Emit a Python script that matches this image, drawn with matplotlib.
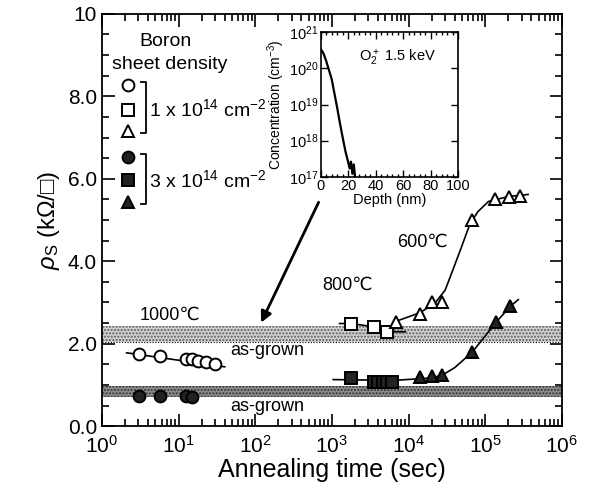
import numpy as np
import matplotlib
matplotlib.use("Agg")
import matplotlib.pyplot as plt
from matplotlib.ticker import MultipleLocator, LogLocator, NullFormatter, FixedLocator

plt.rcParams['font.family'] = ['Liberation Sans', 'DejaVu Sans']
plt.rcParams['mathtext.fontset'] = 'custom'
plt.rcParams['mathtext.rm'] = 'Liberation Sans'
plt.rcParams['mathtext.it'] = 'Liberation Sans:italic'

# --- data ---
# 1000 C
t_circ_open = [3.06, 5.8, 12.4, 14.8, 18, 22.7, 29.7]
r_circ_open = [1.74, 1.70, 1.64, 1.62, 1.59, 1.56, 1.51]
fit_circ_t = [2.1, 40]
fit_circ_r = [1.78, 1.44]
t_circ_fill = [3.06, 5.8, 12.4, 14.8]
r_circ_fill = [0.73, 0.73, 0.73, 0.71]

# 800 C
t_sq_open = [1800, 3500, 5300]
r_sq_open = [2.49, 2.41, 2.29]
fit_sq_t = [1260, 1800, 3500, 5300, 9100]
fit_sq_r = [2.49, 2.49, 2.41, 2.29, 2.29]
t_sq_fill = [1800, 3500, 4000, 4600, 5300, 6000]
r_sq_fill = [1.16, 1.08, 1.08, 1.08, 1.08, 1.07]

# 600 C
t_tri_open = [6800, 14000, 20300, 27600, 67300, 133000, 204000, 282000]
r_tri_open = [2.53, 2.73, 3.02, 3.02, 5.0, 5.50, 5.57, 5.58]
fit_tri_open_t = [7000, 14000, 22000, 30000, 38000, 48000, 63000, 80000, 110000, 200000, 363000]
fit_tri_open_r = [2.55, 2.75, 2.98, 3.3, 3.8, 4.3, 4.9, 5.2, 5.45, 5.57, 5.62]
t_tri_fill = [14000, 20000, 27600, 68000, 140000, 213000]
r_tri_fill = [1.20, 1.21, 1.24, 1.80, 2.53, 2.91]
fit_fill_t = [1040, 3000, 7700, 20000, 27600, 40000, 68000, 140000, 213000, 270000]
fit_fill_r = [1.13, 1.12, 1.12, 1.17, 1.24, 1.42, 1.80, 2.53, 2.91, 3.07]

band_open = (2.05, 2.42)
band_fill = (0.70, 0.97)

# inset: O2+ 1.5 keV profile
depth = [0, 2, 4, 6, 8, 10, 12, 14, 16, 18, 20, 21, 22, 23, 24, 25]
conc = [3.5e20, 2.6e20, 1.6e20, 9e19, 5e19, 2e19, 8e18, 3e18, 1.2e18,
        5e17, 2.5e17, 1.7e17, 2.6e17, 1.2e17, 2.2e17, 1e17]

fig = plt.figure(figsize=(5.89, 4.95), dpi=100)
ax = fig.add_axes([0.173, 0.139, 0.781, 0.833])

ax.axhspan(*band_open, facecolor='#d0d0d0', edgecolor='#5a5a5a', hatch='.....', lw=0)
ax.axhline(band_open[0], color='k', lw=0.8, ls=(0, (1, 1.5)))
ax.axhspan(*band_fill, facecolor='#8c8c8c', edgecolor='#333333', hatch='.....', lw=0)

mk = dict(ms=8.5, mec='k', mew=1.4, ls='none', zorder=5)
ax.plot(fit_circ_t, fit_circ_r, 'k-', lw=1.2)
ax.plot(t_circ_open, r_circ_open, 'o', mfc='white', **mk)
ax.plot(t_circ_fill, r_circ_fill, 'o', mfc='#222222', **mk)

ax.plot(fit_sq_t, fit_sq_r, 'k-', lw=1.2)
ax.plot(t_sq_open, r_sq_open, 's', mfc='white', **mk)
ax.plot(fit_fill_t, fit_fill_r, 'k-', lw=1.2)
ax.plot(t_sq_fill, r_sq_fill, 's', mfc='#222222', **mk)

ax.plot(fit_tri_open_t, fit_tri_open_r, 'k-', lw=1.2)
ax.plot(t_tri_open, r_tri_open, '^', mfc='white', **mk)
ax.plot(t_tri_fill, r_tri_fill, '^', mfc='#222222', **mk)

ax.set_xscale('log')
ax.set_xlim(1, 1e6)
ax.set_ylim(0, 10)
ax.yaxis.set_major_locator(FixedLocator([0, 2, 4, 6, 8, 10]))
ax.set_yticklabels(['0.0', '2.0', '4.0', '6.0', '8.0', '10'])
ax.yaxis.set_minor_locator(MultipleLocator(0.5))
ax.xaxis.set_major_locator(LogLocator(base=10, numticks=10))
ax.xaxis.set_minor_locator(LogLocator(base=10, subs=np.arange(2, 10), numticks=20))
ax.xaxis.set_minor_formatter(NullFormatter())
ax.tick_params(which='both', direction='in', top=True, right=True, width=1.2)
ax.tick_params(which='major', length=9, labelsize=15)
ax.tick_params(which='minor', length=5)
ax.tick_params(axis='x', which='major', pad=6)
for s in ax.spines.values():
    s.set_linewidth(1.3)

ax.set_xlabel('Annealing time (sec)', fontsize=18, labelpad=1)
ax.set_ylabel(r'$\rho_{\mathrm{S}}$ (kΩ/□)', fontsize=17, labelpad=4,
              family=['Liberation Sans', 'DejaVu Sans'])

# labels
ax.text(7.8, 2.68, '1000℃', fontsize=13, ha='center', va='center')
ax.text(1600, 3.43, '800℃', fontsize=13, ha='center', va='center')
ax.text(15000, 4.45, '600℃', fontsize=13, ha='center', va='center')
ax.text(145, 1.84, 'as-grown', fontsize=13, ha='center', va='center')
ax.text(145, 0.47, 'as-grown', fontsize=13, ha='center', va='center')

# legend drawn by hand
tr = ax.transAxes
ax.text(0.138, 0.932, 'Boron', transform=tr, fontsize=14, ha='center', va='center')
ax.text(0.147, 0.876, 'sheet density', transform=tr, fontsize=14, ha='center', va='center')
lx = 0.057
for y, m, fc in [(0.828, 'o', 'white'), (0.768, 's', 'white'), (0.717, '^', 'white'),
                 (0.653, 'o', '#222222'), (0.597, 's', '#222222'), (0.544, '^', '#222222')]:
    ax.plot([lx], [y], m, transform=tr, mfc=fc, ms=8.5, mec='k', mew=1.4, clip_on=False)
for y0, y1 in [(0.835, 0.712), (0.660, 0.538)]:
    ax.plot([0.085, 0.095, 0.095, 0.085], [y0, y0, y1, y1], 'k-', lw=1.3, transform=tr)
ax.text(0.103, 0.768, r'1 x 10$^{14}$ cm$^{-2}$', transform=tr, fontsize=14, va='center')
ax.text(0.103, 0.597, r'3 x 10$^{14}$ cm$^{-2}$', transform=tr, fontsize=14, va='center')

# arrow from inset to band
ax.annotate('', xy=(115, 2.45), xytext=(695, 5.49),
            arrowprops=dict(arrowstyle='-|>', color='k', lw=2, mutation_scale=16))

# inset
ins = fig.add_axes([0.5445, 0.643, 0.2336, 0.2917])
ins.plot(depth, conc, 'k-', lw=1.6)
ins.set_yscale('log')
ins.set_xlim(0, 100)
ins.set_ylim(1e17, 1e21)
ins.xaxis.set_major_locator(MultipleLocator(20))
ins.xaxis.set_minor_locator(MultipleLocator(4))
ins.yaxis.set_major_locator(LogLocator(base=10, numticks=10))
ins.yaxis.set_minor_locator(plt.NullLocator())
ins.tick_params(which='both', direction='in', top=True, right=True, width=1)
ins.tick_params(which='major', length=5, labelsize=10.5, pad=2)
ins.tick_params(which='minor', length=2.5)
for s in ins.spines.values():
    s.set_linewidth(1.2)
ins.set_xlabel('Depth (nm)', fontsize=10.5, labelpad=0)
ins.set_ylabel(r'Concentration (cm$^{-3}$)', fontsize=10, labelpad=1)
ins.text(0.28, 0.80, r'O$_2^+$ 1.5 keV', transform=ins.transAxes, fontsize=10.5)

fig.savefig('out.png', dpi=100)
